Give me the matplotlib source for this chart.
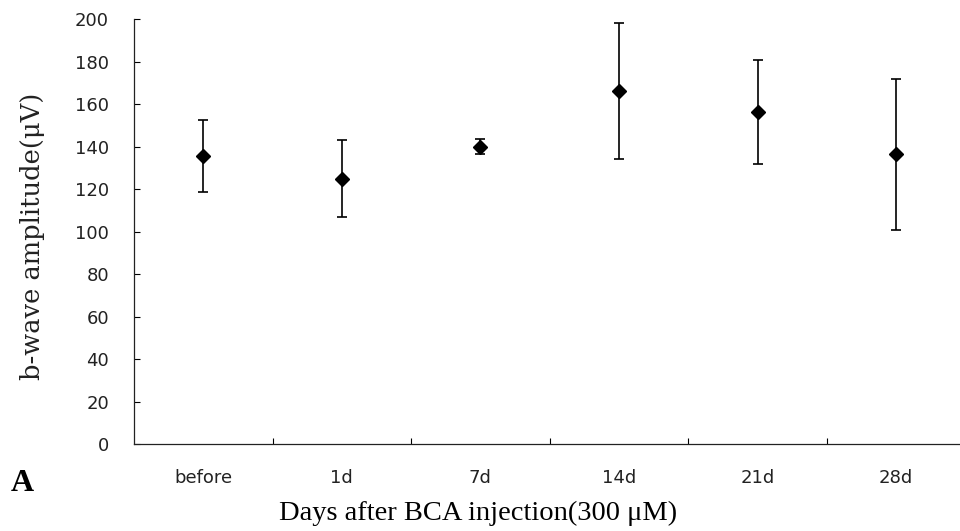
import numpy as np
import matplotlib.pyplot as plt

# values
days = ["before", "1d", "7d", "14d", "21d", "28d"]
amp_mean = [135.5, 125.0, 140.0, 166.5, 156.5, 136.5]
amp_err = [17.0, 18.0, 3.5, 32.0, 24.5, 35.5]
yticks = [0, 20, 40, 60, 80, 100, 120, 140, 160, 180, 200]

fig = plt.figure(figsize=(9.6, 5.31), dpi=100)
ax = fig.add_axes([0.1396, 0.1638, 0.866, 0.7995])

x = np.arange(len(days))
ax.errorbar(x, amp_mean, yerr=amp_err, fmt="D", color="black",
            ecolor="black", elinewidth=1.2, capsize=3.5, capthick=1.2,
            markersize=7.5)

ax.set_xlim(-0.5, len(days) - 0.5)
ax.set_ylim(0, 200)
ax.set_yticks(yticks)
ax.set_yticklabels([str(v) for v in yticks], fontsize=13, color="#222222")

# category labels at centres, tick marks at boundaries
ax.set_xticks(x)
ax.set_xticklabels(days, fontsize=13, color="#222222")
ax.set_xticks(np.arange(0.5, len(days) - 1, 1.0), minor=True)
ax.tick_params(axis="x", which="major", length=0, pad=18)
ax.tick_params(axis="x", which="minor", direction="in", length=4, width=0.8)
ax.tick_params(axis="y", direction="in", length=4, width=0.8, pad=18)

for s in ["top", "right"]:
    ax.spines[s].set_visible(False)
for s in ["left", "bottom"]:
    ax.spines[s].set_linewidth(0.9)
    ax.spines[s].set_color("#222222")

fig.text(0.034, 0.555, "b-wave amplitude(\u03bcV)", rotation=90,
         ha="center", va="center", fontsize=18.5, family="DejaVu Serif",
         color="#222222")
fig.text(0.498, 0.034, "Days after BCA injection(300 \u03bcM)",
         ha="center", va="center", fontsize=20.5, family="Liberation Serif")
fig.text(0.023, 0.09, "A", ha="center", va="center", fontsize=23,
         fontweight="bold", family="Liberation Serif")

fig.savefig("out.png", dpi=100)
